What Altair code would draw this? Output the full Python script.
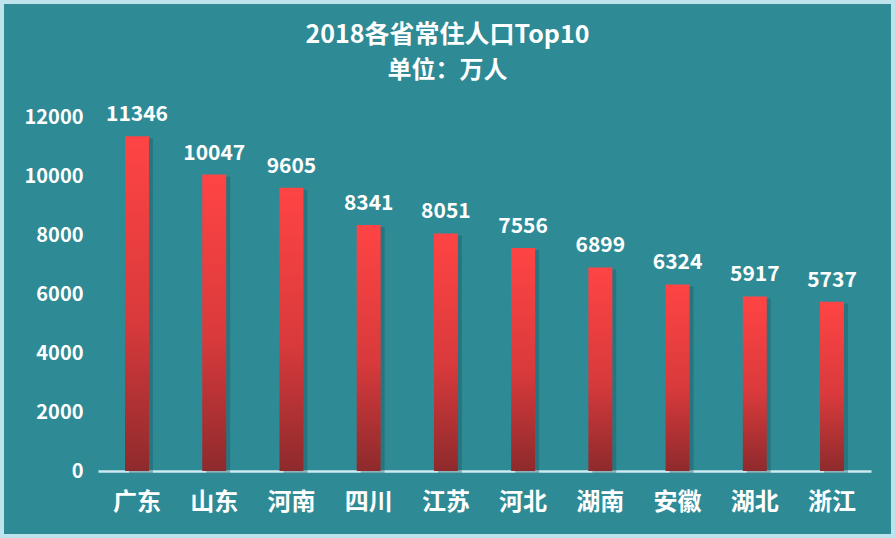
import altair as alt
import pandas as pd

provinces = ["广东", "山东", "河南", "四川", "江苏", "河北", "湖南", "安徽", "湖北", "浙江"]
population = [11346, 10047, 9605, 8341, 8051, 7556, 6899, 6324, 5917, 5737]
y_ticks = [0, 2000, 4000, 6000, 8000, 10000, 12000]
title_lines = ["2018各省常住人口Top10", "单位：万人"]

df = pd.DataFrame({"province": provinces, "pop": population})
title_df = pd.DataFrame({"line": title_lines, "row": [0, 1]})

FONT = "Noto Sans CJK SC"
W, H = 773, 354

x_enc = alt.X("province:N", sort=provinces,
              scale=alt.Scale(paddingInner=0.69, paddingOuter=0.35),
              axis=alt.Axis(title=None, labelAngle=0, labelFontSize=24, labelFont=FONT,
                            labelFontWeight="bold", labelColor="white", labelPadding=19,
                            ticks=False, domainColor="#CDEAF0", domainWidth=2.5))
y_enc = alt.Y("pop:Q", scale=alt.Scale(domain=[0, 12000], nice=False),
              axis=alt.Axis(title=None, values=y_ticks, grid=False, domain=False, ticks=False,
                            format="d", labelFontSize=20, labelFont=FONT, labelFontWeight="bold",
                            labelColor="white", labelPadding=15))

base = alt.Chart(df)

shadow = base.mark_bar(color="#1A4F57", opacity=0.35, xOffset=4, yOffset=2).encode(
    x=x_enc, y=y_enc)

bars = base.mark_bar(
    color=alt.Gradient(
        gradient="linear", x1=0, x2=0, y1=0, y2=1,
        stops=[alt.GradientStop(offset=0, color="#FF4444"),
               alt.GradientStop(offset=0.55, color="#D93A3C"),
               alt.GradientStop(offset=1, color="#8E2A2C")]
    )
).encode(x=x_enc, y=y_enc)

labels = base.mark_text(baseline="bottom", dy=-11, fontSize=21, font=FONT,
                        fontWeight="bold", color="white").encode(
    x=x_enc, y=y_enc, text="pop:Q")

title_main = alt.Chart(title_df).transform_filter("datum.row == 0").mark_text(
    fontSize=25, font=FONT, fontWeight="bold", color="white", baseline="middle", clip=False
).encode(x=alt.value(W / 2 - 37), y=alt.value(-82), text="line:N")

title_sub = alt.Chart(title_df).transform_filter("datum.row == 1").mark_text(
    fontSize=24, font=FONT, fontWeight="bold", color="white", baseline="middle", clip=False
).encode(x=alt.value(W / 2 - 37), y=alt.value(-46), text="line:N")

border = alt.Chart(pd.DataFrame({"a": [0]})).mark_rect(
    fill=None, stroke="#BFE3EC", strokeWidth=4, clip=False
).encode(x=alt.value(-96), x2=alt.value(W + 22), y=alt.value(-115), y2=alt.value(H + 65))

chart = alt.layer(shadow, bars, labels, title_main, title_sub, border).properties(
    width=W, height=H,
    autosize=alt.AutoSizeParams(type="none"),
    padding={"left": 98, "top": 117, "right": 24, "bottom": 67},
    background="#2E8B96"
).configure_view(stroke=None)

chart.save("out.html", embed_options={"renderer": "svg", "actions": False})
